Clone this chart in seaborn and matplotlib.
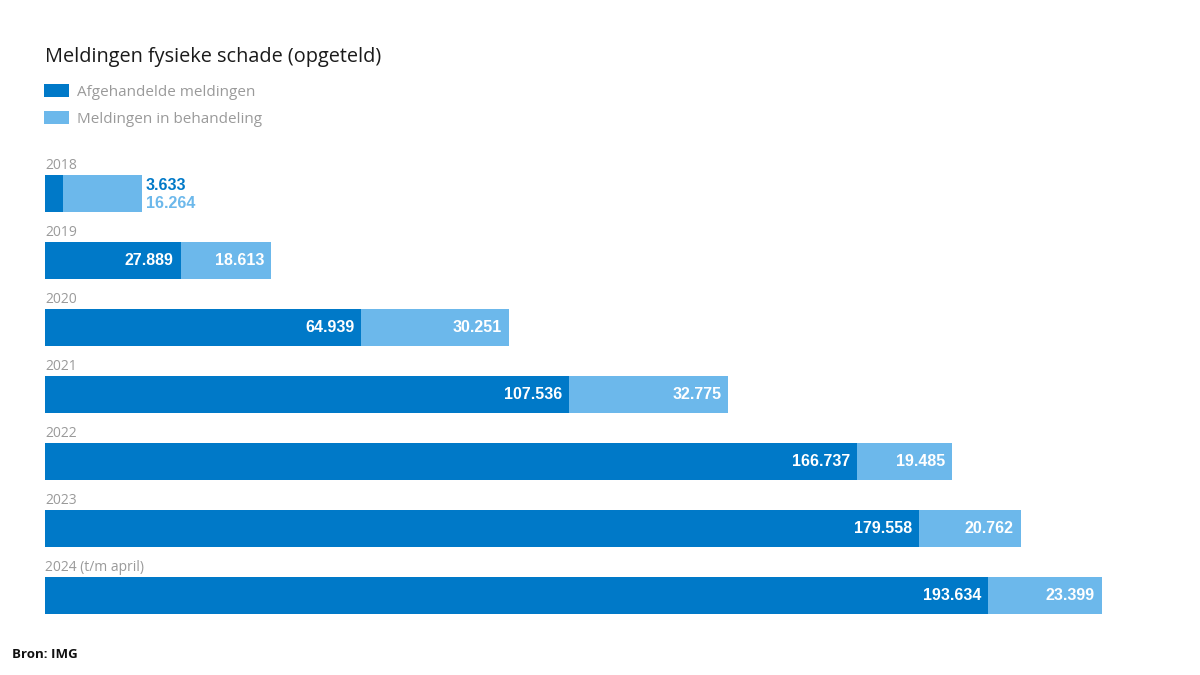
import pandas as pd
import matplotlib.pyplot as plt
import seaborn as sns
from matplotlib.patches import Patch

years = ["2018", "2019", "2020", "2021", "2022", "2023", "2024 (t/m april)"]
afgehandeld = [3633, 27889, 64939, 107536, 166737, 179558, 193634]
in_behandeling = [16264, 18613, 30251, 32775, 19485, 20762, 23399]

dark = "#0079C8"
light = "#6CB8EB"
grey = "#9a9a9a"

df = pd.DataFrame({"jaar": years, "afgehandeld": afgehandeld, "behandeling": in_behandeling})
df["totaal"] = df["afgehandeld"] + df["behandeling"]

def fmt(v):
    return f"{v:,}".replace(",", ".")

sns.set_theme(style="white")
plt.rcParams["font.family"] = ["Open Sans", "DejaVu Sans"]
num_font = ["Liberation Sans Narrow", "Liberation Sans", "DejaVu Sans"]

fig = plt.figure(figsize=(12, 6.75), dpi=100)
ax = fig.add_axes([45 / 1200, 1 - 629 / 675, 1105 / 1200, (629 - 160) / 675])

sns.barplot(data=df, y="jaar", x="totaal", color=light, width=0.55, saturation=1,
            orient="h", linewidth=0, ax=ax)
sns.barplot(data=df, y="jaar", x="afgehandeld", color=dark, width=0.55, saturation=1,
            orient="h", linewidth=0, ax=ax)

ax.set_xlim(0, 226900)
ax.set_ylim(6.5, -0.5)
ax.set_xlabel("")
ax.set_ylabel("")
ax.set_xticks([])
ax.set_yticks([])
sns.despine(ax=ax, left=True, bottom=True)

lbl = dict(fontsize=11.5, fontweight="bold", family=num_font, textcoords="offset points",
           va="center")
for i, row in df.iterrows():
    ax.text(0, i - 0.31, row["jaar"], ha="left", va="bottom", fontsize=10, color=grey)
    if i == 0:
        ax.annotate(fmt(row["afgehandeld"]), (row["totaal"], i - 0.12), xytext=(3, 0),
                    ha="left", color=dark, **lbl)
        ax.annotate(fmt(row["behandeling"]), (row["totaal"], i + 0.15), xytext=(3, 0),
                    ha="left", color=light, **lbl)
    else:
        ax.annotate(fmt(row["afgehandeld"]), (row["afgehandeld"], i), xytext=(-5, 0),
                    ha="right", color="white", **lbl)
        ax.annotate(fmt(row["behandeling"]), (row["totaal"], i), xytext=(-5, 0),
                    ha="right", color="white", **lbl)

fig.text(45 / 1200, 1 - 57 / 675, "Meldingen fysieke schade (opgeteld)", ha="left",
         va="center", fontsize=14.3, color="#1a1a1a")

handles = [Patch(facecolor=dark, edgecolor="none", label="Afgehandelde meldingen"),
           Patch(facecolor=light, edgecolor="none", label="Meldingen in behandeling")]
leg = fig.legend(handles=handles, loc="upper left", bbox_to_anchor=(30 / 1200, 1 - 70 / 675),
                 frameon=False, fontsize=11, handlelength=1.65, handleheight=1.0,
                 handletextpad=0.5, labelspacing=0.7)
for t in leg.get_texts():
    t.set_color(grey)

fig.text(12 / 1200, 1 - 654 / 675, "Bron: IMG", ha="left", va="center", fontsize=9.5,
         fontweight="bold", color="#111111")

fig.savefig("out.png", dpi=100)
